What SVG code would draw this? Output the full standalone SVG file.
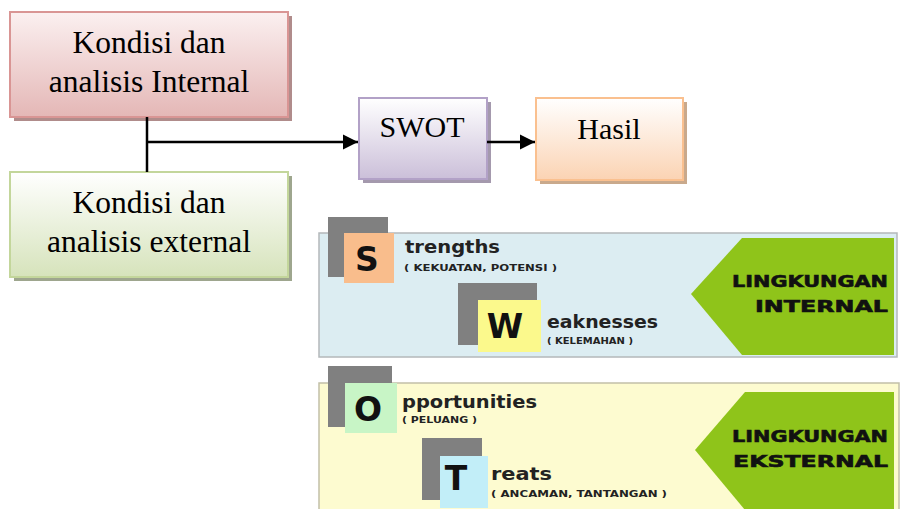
<svg xmlns="http://www.w3.org/2000/svg" width="902" height="509" viewBox="0 0 902 509">
<defs>
<linearGradient id="gPink" x1="0" y1="0" x2="0" y2="1"><stop offset="0" stop-color="#fbf0f0"/><stop offset="1" stop-color="#e4b7b6"/></linearGradient>
<linearGradient id="gGreen" x1="0" y1="0" x2="0" y2="1"><stop offset="0" stop-color="#ffffff"/><stop offset="1" stop-color="#d6e3bb"/></linearGradient>
<linearGradient id="gPurple" x1="0" y1="0" x2="0" y2="1"><stop offset="0" stop-color="#ffffff"/><stop offset="1" stop-color="#cbbfd9"/></linearGradient>
<linearGradient id="gOrange" x1="0" y1="0" x2="0" y2="1"><stop offset="0" stop-color="#ffffff"/><stop offset="1" stop-color="#fbd3b3"/></linearGradient>
<marker id="arr" markerUnits="userSpaceOnUse" markerWidth="16" markerHeight="16" refX="15" refY="8" orient="auto"><path d="M0,0.5 L15,8 L0,15.5 Z" fill="#000"/></marker>
<style>
.t{font-family:"Liberation Serif","Times New Roman",serif;font-size:30px;fill:#000;text-anchor:middle}
.tl{font-size:31.5px}
.conn{stroke:#000;stroke-width:2.5;fill:none}
.sq{fill:#808080}
.big{font-family:"DejaVu Sans",sans-serif;font-weight:bold;font-size:33px;fill:#111;text-anchor:middle}
.w{font-family:"DejaVu Sans",sans-serif;font-weight:bold;font-size:17px;fill:#222}
.sm{font-family:"DejaVu Sans",sans-serif;font-weight:bold;font-size:8px;fill:#222}
.lg{font-family:"DejaVu Sans",sans-serif;font-weight:bold;font-size:16px;fill:#111;stroke:#111;stroke-width:0.6;text-anchor:end}
.pent{fill:#8fc41a}
</style>
</defs>

<g id="internal">
<rect x="14" y="16" width="278" height="105" fill="#b08c8b"/>
<rect x="10" y="12" width="278" height="105" fill="url(#gPink)" stroke="#d99594" stroke-width="2"/>
<text class="t tl" x="149" y="53">Kondisi dan</text>
<text class="t tl" x="149" y="92">analisis Internal</text>
</g>

<g id="external">
<rect x="14" y="176" width="278" height="105" fill="#9ea68e"/>
<rect x="10" y="172" width="278" height="105" fill="url(#gGreen)" stroke="#c3d69b" stroke-width="2"/>
<text class="t tl" x="149" y="213">Kondisi dan</text>
<text class="t tl" x="149" y="252">analisis external</text>
</g>

<g id="swot">
<rect x="363" y="102" width="128" height="81" fill="#a499ad"/>
<rect x="359" y="98" width="128" height="81" fill="url(#gPurple)" stroke="#b2a1c7" stroke-width="2"/>
<text class="t" x="422" y="137">SWOT</text>
</g>

<g id="hasil">
<rect x="540" y="102" width="147" height="82" fill="#c9a98c"/>
<rect x="536" y="98" width="147" height="82" fill="url(#gOrange)" stroke="#fac08f" stroke-width="2"/>
<text class="t" x="609" y="139">Hasil</text>
</g>

<g id="connectors">
<line class="conn" x1="147" y1="117" x2="147" y2="172"/>
<line class="conn" x1="147" y1="142" x2="358" y2="142" marker-end="url(#arr)"/>
<line class="conn" x1="487" y1="142" x2="535" y2="142" marker-end="url(#arr)"/>
</g>

<g id="panel-internal">
<rect x="319" y="233" width="578" height="124" fill="#dcedf2" stroke="#b4b8ba" stroke-width="1.5"/>
<polygon class="pent" points="691,294 742,238 894,238 894,355 742,355"/>
<text class="lg" x="888" y="287" textLength="156" lengthAdjust="spacingAndGlyphs">LINGKUNGAN</text>
<text class="lg" x="888" y="312" textLength="133" lengthAdjust="spacingAndGlyphs">INTERNAL</text>
</g>

<g id="S">
<rect class="sq" x="328" y="217" width="60" height="60"/>
<rect x="344" y="233" width="50" height="50" fill="#f9bd8c"/>
<text class="big" x="367" y="271">S</text>
<text class="w" x="405" y="253" textLength="95" lengthAdjust="spacingAndGlyphs">trengths</text>
<text class="sm" x="404" y="271" textLength="153" lengthAdjust="spacingAndGlyphs">( KEKUATAN, POTENSI )</text>
</g>

<g id="W">
<rect class="sq" x="458" y="283" width="79" height="62"/>
<rect x="478" y="300" width="63" height="52" fill="#fbf98c"/>
<text class="big" x="505" y="338">W</text>
<text class="w" x="547" y="328" textLength="111" lengthAdjust="spacingAndGlyphs">eaknesses</text>
<text class="sm" x="547" y="344" textLength="86" lengthAdjust="spacingAndGlyphs">( KELEMAHAN )</text>
</g>

<g id="panel-external">
<rect x="319" y="383" width="580" height="127" fill="#fdfbd0" stroke="#c2c0a8" stroke-width="1.5"/>
<polygon class="pent" points="695,450 745,392 894,392 894,510 745,510"/>
<text class="lg" x="888" y="442" textLength="156" lengthAdjust="spacingAndGlyphs">LINGKUNGAN</text>
<text class="lg" x="888" y="467" textLength="155" lengthAdjust="spacingAndGlyphs">EKSTERNAL</text>
</g>

<g id="O">
<rect class="sq" x="328" y="366" width="64" height="61"/>
<rect x="345" y="383" width="52" height="50" fill="#c8f5c6"/>
<text class="big" x="368" y="421">O</text>
<text class="w" x="402" y="408" textLength="135" lengthAdjust="spacingAndGlyphs">pportunities</text>
<text class="sm" x="402" y="423" textLength="75" lengthAdjust="spacingAndGlyphs">( PELUANG )</text>
</g>

<g id="T">
<rect class="sq" x="422" y="438" width="60" height="62"/>
<rect x="440" y="456" width="48" height="52" fill="#c2eef8"/>
<text class="big" x="456" y="490">T</text>
<text class="w" x="491" y="480" textLength="61" lengthAdjust="spacingAndGlyphs">reats</text>
<text class="sm" x="491" y="497" textLength="176" lengthAdjust="spacingAndGlyphs">( ANCAMAN, TANTANGAN )</text>
</g>
</svg>
